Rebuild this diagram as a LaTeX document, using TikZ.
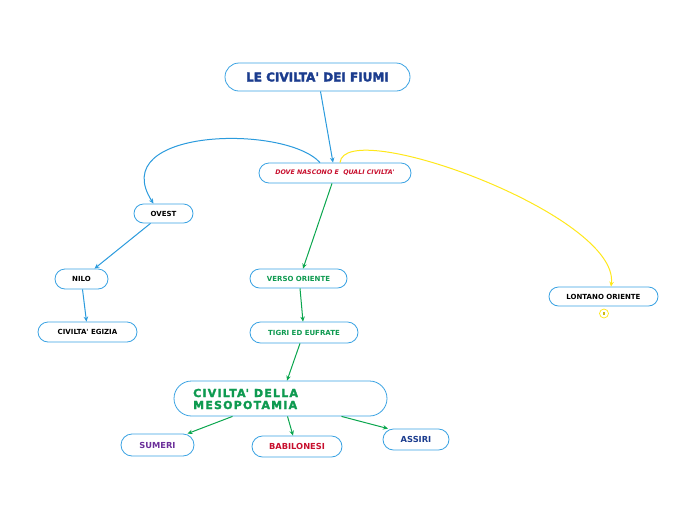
\documentclass[tikz,border=0pt]{standalone}
\usepackage{fontspec}
\setmainfont{DejaVu Sans}
\newfontfamily\widefont{DejaVu Sans}[LetterSpace=11,FakeBold=2]
\newfontfamily\heavyfont{DejaVu Sans}[FakeBold=2.5]
\usetikzlibrary{arrows.meta}
\definecolor{bordblue}{HTML}{3BA3E3}
\definecolor{lineblue}{HTML}{2B9BDD}
\definecolor{linegreen}{HTML}{0AA64E}
\definecolor{lineyellow}{HTML}{FFE81A}
\definecolor{navy}{HTML}{1B3C8E}
\definecolor{redtxt}{HTML}{C8102E}
\definecolor{greentxt}{HTML}{0E9A50}
\definecolor{purpletxt}{HTML}{6B2F9A}
\newcommand{\apo}{\textquotesingle}
\tikzset{
  box/.style={draw=bordblue, line width=0.8pt, fill=white, inner sep=0pt, align=center, font=\bfseries\fontsize{7}{8}\selectfont},
  conn/.style={line width=1pt, -{Stealth[length=5pt,width=4.5pt]}},
  bl/.style={conn, draw=lineblue},
  gr/.style={conn, draw=linegreen},
  ye/.style={conn, draw=lineyellow, -{Stealth[length=5pt,width=4.5pt,fill=lineyellow]}},
}
\begin{document}
\begin{tikzpicture}[x=1pt,y=-1pt]
\useasboundingbox (0,0) rectangle (697,520);
\fill[white] (0,0) rectangle (697,520);
% nodes
\node[box, minimum width=185pt, minimum height=28pt, rounded corners=14pt, text=navy, font=\heavyfont\bfseries\fontsize{12}{13}\selectfont] (title) at (317.5,77) {LE CIVILTA\apo{} DEI FIUMI};
\node[box, minimum width=152pt, minimum height=20pt, rounded corners=10pt, text=redtxt, font=\bfseries\itshape\fontsize{6.3}{7}\selectfont] (dove) at (335,173) {DOVE NASCONO E\ \ QUALI CIVILTA\apo};
\node[box, minimum width=59pt, minimum height=19pt, rounded corners=9.5pt] (ovest) at (163.5,213.5) {OVEST};
\node[box, minimum width=53pt, minimum height=20pt, rounded corners=10pt] (nilo) at (81.5,279) {NILO};
\node[box, minimum width=99pt, minimum height=20pt, rounded corners=10pt] (egizia) at (87.5,332) {CIVILTA\apo{} EGIZIA};
\node[box, minimum width=97pt, minimum height=19pt, rounded corners=9.5pt, text=greentxt] (verso) at (298.5,278.5) {VERSO ORIENTE};
\node[box, minimum width=108pt, minimum height=21pt, rounded corners=10.5pt, text=greentxt] (tigri) at (304,332.5) {TIGRI ED EUFRATE};
\node[box, minimum width=213pt, minimum height=35pt, rounded corners=17.5pt] (meso) at (280.5,398.5) {};
\node[anchor=west, inner sep=0pt, align=left, text=greentxt, font=\widefont\bfseries\fontsize{11}{12}\selectfont] (mesotxt) at (193,399) {CIVILTA\apo{} DELLA\\MESOPOTAMIA};
\node[box, minimum width=109pt, minimum height=19pt, rounded corners=9.5pt] (lontano) at (603.5,296.5) {LONTANO ORIENTE};
\node[box, minimum width=73pt, minimum height=22pt, rounded corners=11pt, text=purpletxt, font=\bfseries\fontsize{8.3}{9}\selectfont] (sumeri) at (157.5,445) {SUMERI};
\node[box, minimum width=90pt, minimum height=21pt, rounded corners=10.5pt, text=redtxt, font=\bfseries\fontsize{8.3}{9}\selectfont] (babil) at (297,446.5) {BABILONESI};
\node[box, minimum width=66pt, minimum height=21pt, rounded corners=10.5pt, text=navy, font=\bfseries\fontsize{8.3}{9}\selectfont] (assiri) at (416,439.5) {ASSIRI};
\node[draw=lineyellow, line width=0.7pt, circle, minimum size=9pt, inner sep=0pt] (mark) at (604,313.5) {};
\node[fill=lineyellow!80!black, minimum width=1.5pt, minimum height=2.5pt, inner sep=0pt] (markin) at (mark) {};
% connectors
\draw[bl] ([xshift=3pt]title.south) -- ([xshift=-2pt]dove.north);
\draw[bl] ([xshift=-15pt]dove.north) .. controls (285,124) and (105,128) .. ([xshift=-10pt]ovest.north);
\draw[bl] ([xshift=-13pt]ovest.south) -- ([xshift=13pt]nilo.north);
\draw[bl] ([xshift=1pt]nilo.south) -- ([xshift=-1pt]egizia.north);
\draw[ye] ([xshift=5pt]dove.north) .. controls (345,115) and (620,215) .. ([xshift=7.5pt]lontano.north);
\draw[gr] ([xshift=-3pt]dove.south) -- ([xshift=4.5pt]verso.north);
\draw[gr] ([xshift=1.5pt]verso.south) -- ([xshift=-1pt]tigri.north);
\draw[gr] ([xshift=-4pt]tigri.south) -- ([xshift=6.5pt]meso.north);
\draw[gr] ([xshift=-48pt]meso.south) -- ([xshift=30pt]sumeri.north);
\draw[gr] ([xshift=7pt]meso.south) -- ([xshift=-4pt]babil.north);
\draw[gr] ([xshift=61pt]meso.south) -- ([xshift=-28pt]assiri.north);
\end{tikzpicture}
\end{document}
